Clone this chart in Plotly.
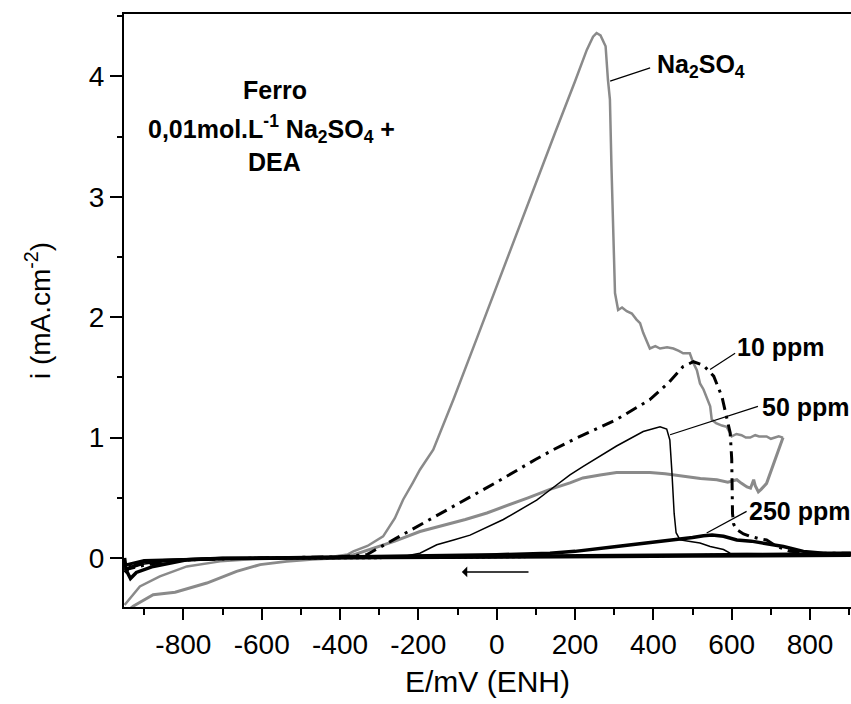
import plotly.graph_objects as go

# ---------------- data (E in mV vs ENH, i in mA/cm2) ----------------
E_na_fwd = [-950, -911, -860, -791, -706, -647, -560, -480, -420, -380, -366, -330, -290, -260, -239, -215,
            -196, -162, -110, -50, 0, 50, 100, 150, 200, 230, 246, 255, 265, 278, 284, 289, 293, 298, 302,
            310, 320, 332, 345, 357, 366, 374, 383, 391, 405, 417, 435, 451, 465, 476, 493, 502, 511, 519,
            528, 536, 545, 549, 560, 575, 587, 600, 612, 625, 636, 647, 660, 670, 689, 700, 710, 720, 731]
i_na_fwd = [-0.39, -0.236, -0.153, -0.07, -0.028, -0.014, -0.005, 0.0, 0.01, 0.03, 0.055, 0.1, 0.18, 0.33,
            0.484, 0.62, 0.733, 0.9, 1.32, 1.83, 2.26, 2.69, 3.11, 3.54, 3.96, 4.22, 4.33, 4.36, 4.34, 4.25,
            3.97, 3.81, 3.25, 2.70, 2.20, 2.06, 2.08, 2.05, 2.03, 1.98, 1.95, 1.87, 1.80, 1.74, 1.76, 1.74,
            1.75, 1.74, 1.72, 1.70, 1.70, 1.62, 1.56, 1.45, 1.40, 1.34, 1.26, 1.15, 1.12, 1.10, 1.09, 1.01,
            1.03, 1.02, 1.00, 1.00, 1.02, 1.01, 1.01, 0.99, 1.00, 1.01, 1.0]

E_na_rev = [731, 720, 706, 689, 675, 668, 660, 656, 648, 639, 625, 613, 590, 562, 520, 476, 430, 391, 350,
            306, 264, 220, 187, 136, 80, 20, -25, -80, -140, -196, -260, -323, -380, -408, -470, -536, -604,
            -664, -740, -821, -877, -928, -950]
i_na_rev = [1.0, 0.9, 0.79, 0.62, 0.57, 0.55, 0.60, 0.65, 0.58, 0.59, 0.62, 0.65, 0.63, 0.65, 0.66, 0.68,
            0.70, 0.71, 0.71, 0.71, 0.69, 0.665, 0.624, 0.57, 0.50, 0.43, 0.374, 0.32, 0.27, 0.22, 0.14,
            0.069, 0.01, 0.0, -0.01, -0.028, -0.055, -0.111, -0.208, -0.285, -0.305, -0.40, -0.46]

E_10_fwd = [-950, -940, -900, -850, -791, -700, -600, -500, -400, -332, -300, -200, -100, 0, 100, 145, 200,
            306, 391, 440, 476, 502, 528, 554, 575, 587, 596, 600, 602, 605, 613, 630, 647, 670, 689, 715,
            749, 817, 904]
i_10_fwd = [-0.12, -0.09, -0.06, -0.035, -0.015, -0.005, 0.0, 0.005, 0.01, 0.027, 0.085, 0.27, 0.45, 0.63,
            0.82, 0.9, 0.99, 1.15, 1.315, 1.46, 1.59, 1.63, 1.60, 1.51, 1.34, 1.18, 1.04, 0.82, 0.37, 0.28,
            0.235, 0.2, 0.18, 0.16, 0.15, 0.096, 0.055, 0.04, 0.04]
E_10_rev = [904, 700, 500, 300, 100, -100, -300, -500, -700, -900, -950]
i_10_rev = [0.03, 0.025, 0.02, 0.012, 0.008, 0.005, 0.003, 0.0, -0.005, -0.03, -0.08]

E_50_fwd = [-950, -900, -800, -700, -600, -500, -400, -300, -238, -196, -153, -110, -68, 17, 102, 136, 187,
            221, 306, 374, 417, 434, 442, 447, 453, 458, 468, 490, 519, 545, 579, 596, 650, 750, 904]
i_50_fwd = [-0.10, -0.05, -0.01, 0.0, 0.0, 0.0, 0.005, 0.008, 0.013, 0.04, 0.11, 0.15, 0.19, 0.32, 0.48,
            0.565, 0.69, 0.76, 0.93, 1.05, 1.09, 1.07, 0.98, 0.73, 0.37, 0.21, 0.15, 0.14, 0.125, 0.096,
            0.07, 0.04, 0.035, 0.03, 0.03]
E_50_rev = [904, 700, 500, 300, 100, -100, -300, -500, -700, -900, -950]
i_50_rev = [0.02, 0.02, 0.015, 0.01, 0.008, 0.004, 0.002, 0.0, -0.004, -0.02, -0.06]

E_250_fwd = [-950, -946, -935, -920, -877, -820, -791, -700, -600, -500, -400, -300, -200, -100, 0, 136, 200,
             306, 400, 459, 500, 528, 550, 579, 613, 650, 681, 732, 783, 834, 904]
i_250_fwd = [0.0, -0.10, -0.17, -0.12, -0.07, -0.03, -0.014, -0.005, 0.0, 0.003, 0.006, 0.01, 0.014, 0.02,
             0.027, 0.04, 0.055, 0.096, 0.13, 0.15, 0.17, 0.185, 0.19, 0.18, 0.15, 0.14, 0.125, 0.096, 0.055,
             0.04, 0.04]
E_250_rev = [904, 700, 500, 300, 100, -100, -300, -500, -700, -900, -950]
i_250_rev = [0.035, 0.03, 0.025, 0.02, 0.015, 0.01, 0.006, 0.002, -0.003, -0.03, -0.1]

x_ticks = [-800, -600, -400, -200, 0, 200, 400, 600, 800]
y_ticks = [0, 1, 2, 3, 4]

FONT = "Liberation Sans, Arial, Helvetica, sans-serif"
GRAY = "#8a8a8a"

fig = go.Figure()

def add(x, y, color, width, dash="solid"):
    fig.add_trace(go.Scatter(x=x, y=y, mode="lines", line=dict(color=color, width=width, dash=dash),
                             showlegend=False, hoverinfo="skip"))

add(E_na_fwd, i_na_fwd, GRAY, 2.5)
add(E_na_rev, i_na_rev, GRAY, 3)
add(E_10_rev, i_10_rev, "black", 3, "dot")
add(E_50_rev, i_50_rev, "black", 3)
add(E_250_rev, i_250_rev, "black", 3.5)
add(E_250_fwd, i_250_fwd, "black", 3.5)
add(E_50_fwd, i_50_fwd, "black", 1.5)
add(E_10_fwd, i_10_fwd, "black", 3, "12px,6px,3px,6px")

LBL = 25
annotations = [
    dict(x=-566, y=3.89, text="<b>Ferro</b>", showarrow=False),
    dict(x=-574, y=3.56, text="<b>0,01mol.L<sup>-1</sup> Na<sub>2</sub>SO<sub>4</sub> +</b>", showarrow=False),
    dict(x=-568, y=3.29, text="<b>DEA</b>", showarrow=False),
    dict(x=403, y=4.09, text="<b>Na<sub>2</sub>SO<sub>4</sub></b>", showarrow=False, xanchor="left"),
    dict(x=608, y=1.755, text="<b>10 ppm</b>", showarrow=False, xanchor="left"),
    dict(x=671, y=1.257, text="<b>50 ppm</b>", showarrow=False, xanchor="left"),
    dict(x=640, y=0.393, text="<b>250 ppm</b>", showarrow=False, xanchor="left"),
    # scan direction arrow
    dict(x=-89, y=-0.116, ax=85, ay=-0.116, xref="x", yref="y", axref="x", ayref="y",
         text="", showarrow=True, arrowhead=1, arrowsize=1.2, arrowwidth=1.5, arrowcolor="black"),
]
for a in annotations:
    a.setdefault("xref", "x")
    a.setdefault("yref", "y")
    a.setdefault("font", dict(family=FONT, size=LBL, color="black"))

# leader lines from labels to curves
leaders = [((289.6, 3.96), (391.7, 4.07)),
           ((544.7, 1.565), (608.6, 1.70)),
           ((442.6, 1.024), (666.9, 1.259)),
           ((536.0, 0.208), (638.0, 0.387))]
shapes = [dict(type="line", xref="x", yref="y", x0=a[0], y0=a[1], x1=b[0], y1=b[1],
               line=dict(color="black", width=1.2)) for a, b in leaders]

fig.update_layout(
    width=851, height=704,
    margin=dict(l=124, r=0, t=14, b=97, autoexpand=False),
    paper_bgcolor="white", plot_bgcolor="white",
    font=dict(family=FONT, size=28, color="black"),
    annotations=annotations,
    shapes=shapes,
    showlegend=False,
)
fig.update_xaxes(
    automargin=False,
    range=[-951.5, 904.5], tickvals=x_ticks, ticktext=[str(v) for v in x_ticks],
    ticks="outside", ticklen=11, tickwidth=2, tickcolor="black",
    minor=dict(dtick=100, tick0=0, ticks="outside", ticklen=6, tickwidth=2, tickcolor="black"),
    showline=True, linecolor="black", linewidth=2, mirror=True,
    showgrid=False, zeroline=False,
    tickfont=dict(family=FONT, size=28),
    title=dict(text="E/mV (ENH)", font=dict(family=FONT, size=30), standoff=12),
)
fig.update_yaxes(
    automargin=False,
    range=[-0.407, 4.518], tickvals=y_ticks, ticktext=[str(v) for v in y_ticks],
    ticks="outside", ticklen=12, tickwidth=2, tickcolor="black",
    minor=dict(dtick=0.5, tick0=0, ticks="outside", ticklen=5, tickwidth=2, tickcolor="black"),
    showline=True, linecolor="black", linewidth=2, mirror=False,
    showgrid=False, zeroline=False,
    tickfont=dict(family=FONT, size=28),
    title=dict(text="i (mA.cm<sup>-2</sup>)", font=dict(family=FONT, size=28), standoff=30),
)

fig.write_html("out.html", config={"displayModeBar": False},
               post_script="document.body.style.margin='0px';")
